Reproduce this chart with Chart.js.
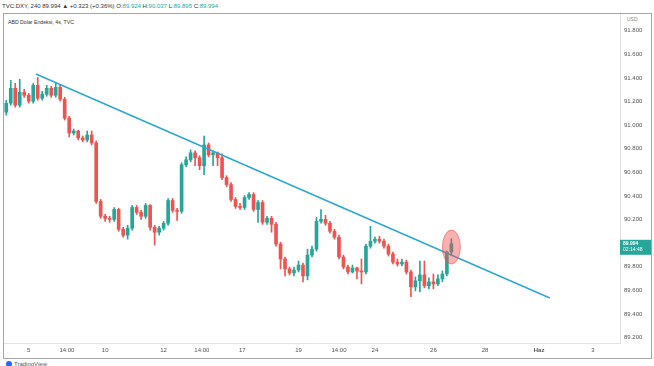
<!DOCTYPE html>
<html>
<head>
<meta charset="utf-8">
<script src="https://cdn.jsdelivr.net/npm/chart.js@4.4.0/dist/chart.umd.min.js"></script>
<style>
  body { margin: 0; background: #fff; font-family: "Liberation Sans", Arial, sans-serif; }
  #wrap { position: relative; width: 654px; height: 366px; overflow: hidden; }
  #frame { position: absolute; left: 3px; top: 13px; width: 647px; height: 344px; border: 1px solid #a5a5a5; }
  #head { position: absolute; left: 2px; top: 3px; font-size: 6px; color: #333; white-space: nowrap; }
  #head .v { color: #26a69a; }
  #title { position: absolute; left: 8px; top: 19px; font-size: 5.2px; color: #333; }
  #usd { position: absolute; left: 627px; top: 16px; font-size: 5px; color: #888; }
  #logo { position: absolute; left: 6px; top: 361px; font-size: 6px; color: #555; white-space: nowrap; }
  #logo span { display: inline-block; width: 6px; height: 6px; border-radius: 3px; background: #2962ff; vertical-align: -1px; margin-right: 2px; }
  canvas { position: absolute; left: 0; top: 0; }
</style>
</head>
<body>
<div id="wrap">
  <div id="frame"></div>
  <div id="head">TVC:DXY, 240 89.994 ▲ +0.323 (+0.36%) O:<span class="v">89.924</span> H:<span class="v">90.037</span> L:<span class="v">89.895</span> C:<span class="v">89.994</span></div>
  <div id="title">ABD Dolar Endeksi, 4s, TVC</div>
  <div id="usd">USD</div>
  <div id="logo"><span></span>TradingView</div>
  <canvas id="chart" width="654" height="366"></canvas>
</div>
<script>
// 4h candles, one slot per candle
let opens = [91.110, 91.186, 91.312, 91.169, 91.278, 91.253, 91.203, 91.337, 91.228, 91.261,
  91.312, 91.253, 91.320, 91.219, 91.059, 90.933, 90.950, 90.891, 90.874, 90.916,
  90.849, 90.353, 90.227, 90.210, 90.201, 90.285, 90.117, 90.067, 90.126, 90.302,
  90.260, 90.227, 90.319, 90.134, 90.092, 90.126, 90.168, 90.361, 90.277, 90.269,
  90.664, 90.706, 90.765, 90.723, 90.656, 90.832, 90.748, 90.765, 90.723, 90.555,
  90.496, 90.370, 90.311, 90.302, 90.386, 90.412, 90.285, 90.344, 90.176, 90.210,
  90.159, 89.991, 89.865, 89.781, 89.747, 89.772, 89.814, 89.722, 89.898, 89.949,
  90.184, 90.201, 90.168, 90.100, 90.050, 89.882, 89.797, 89.755, 89.789, 89.764,
  89.755, 89.974, 90.016, 90.033, 90.016, 89.974, 89.907, 89.839, 89.823, 89.839,
  89.755, 89.629, 89.680, 89.730, 89.638, 89.671, 89.654, 89.696, 89.738, 89.924];
let highs = [91.211, 91.379, 91.354, 91.388, 91.304, 91.270, 91.354, 91.404, 91.287, 91.337,
  91.329, 91.362, 91.346, 91.236, 91.076, 90.967, 90.958, 90.908, 90.950, 90.950,
  90.866, 90.370, 90.243, 90.227, 90.302, 90.294, 90.134, 90.151, 90.319, 90.319,
  90.277, 90.336, 90.327, 90.151, 90.142, 90.184, 90.378, 90.378, 90.294, 90.681,
  90.731, 90.790, 90.782, 90.740, 90.908, 90.849, 90.782, 90.773, 90.757, 90.571,
  90.513, 90.386, 90.336, 90.403, 90.428, 90.428, 90.361, 90.361, 90.227, 90.227,
  90.176, 90.008, 89.882, 89.797, 89.797, 89.848, 89.831, 89.949, 89.974, 90.218,
  90.285, 90.235, 90.184, 90.117, 90.067, 89.898, 89.814, 89.814, 89.797, 89.865,
  89.991, 90.142, 90.050, 90.058, 90.033, 89.991, 89.924, 89.865, 89.865, 89.856,
  89.772, 89.713, 89.848, 89.848, 89.705, 89.738, 89.730, 89.764, 89.932, 90.037];
let lows = [91.085, 91.169, 91.152, 91.152, 91.236, 91.186, 91.186, 91.211, 91.211, 91.245,
  91.236, 91.236, 91.203, 91.043, 90.900, 90.916, 90.874, 90.858, 90.858, 90.832,
  90.336, 90.210, 90.184, 90.176, 90.184, 90.100, 90.050, 90.033, 90.109, 90.243,
  90.201, 90.210, 90.109, 89.983, 90.067, 90.109, 90.151, 90.260, 90.193, 90.252,
  90.647, 90.689, 90.656, 90.622, 90.580, 90.731, 90.656, 90.656, 90.538, 90.479,
  90.353, 90.294, 90.285, 90.285, 90.370, 90.269, 90.176, 90.159, 90.159, 90.092,
  89.974, 89.781, 89.722, 89.730, 89.722, 89.755, 89.671, 89.688, 89.882, 89.932,
  90.168, 90.151, 90.083, 90.033, 89.865, 89.781, 89.738, 89.747, 89.696, 89.654,
  89.738, 89.957, 89.999, 89.999, 89.957, 89.890, 89.823, 89.806, 89.806, 89.738,
  89.545, 89.595, 89.587, 89.621, 89.612, 89.612, 89.638, 89.671, 89.722, 89.895];
let closes = [91.186, 91.312, 91.169, 91.278, 91.253, 91.203, 91.337, 91.228, 91.261, 91.312,
  91.253, 91.320, 91.219, 91.059, 90.933, 90.950, 90.891, 90.874, 90.916, 90.849,
  90.353, 90.227, 90.210, 90.201, 90.285, 90.117, 90.067, 90.126, 90.302, 90.260,
  90.227, 90.319, 90.134, 90.092, 90.126, 90.168, 90.361, 90.277, 90.269, 90.664,
  90.706, 90.765, 90.723, 90.656, 90.832, 90.748, 90.765, 90.723, 90.555, 90.496,
  90.370, 90.311, 90.302, 90.386, 90.412, 90.285, 90.344, 90.176, 90.210, 90.159,
  89.991, 89.865, 89.781, 89.747, 89.772, 89.814, 89.722, 89.898, 89.949, 90.184,
  90.201, 90.168, 90.100, 90.050, 89.882, 89.797, 89.755, 89.789, 89.764, 89.755,
  89.974, 90.016, 90.033, 90.016, 89.974, 89.907, 89.839, 89.823, 89.839, 89.755,
  89.629, 89.680, 89.730, 89.638, 89.671, 89.654, 89.696, 89.738, 89.924, 89.994];

// trend line end points (slot, price)
let trendX = [6.6, 120.9];
let trendY = [91.433, 89.535];

// axis ticks
let tickSlots = [5, 13.5, 22, 35, 43.5, 52.5, 65, 74, 82, 95, 106.5, 118.5, 130.5];
let tickLabels = ["5", "14:00", "10", "12", "14:00", "17", "19", "14:00", "24", "26", "28", "Haz", "3"];
let priceTicks = [89.2, 89.4, 89.6, 89.8, 90.0, 90.2, 90.4, 90.6, 90.8, 91.0, 91.2, 91.4, 91.6, 91.8];

const up = "#26a69a";
const down = "#ef5350";
let candleColors = closes.map((c, i) => c >= opens[i] ? up : down);

let wicks = highs.map((h, i) => ({x: i, y: [lows[i], h]}));
let bodies = opens.map((o, i) => ({x: i, y: [o, closes[i]]}));

// circle round the last candle + price tag on the axis
const marker = {
  id: "marker",
  afterDatasetsDraw(chart) {
    const {ctx, scales: {x, y}} = chart;
    const last = closes.length - 1;
    const cx = x.getPixelForValue(last);
    const cy = y.getPixelForValue((highs[last] + lows[last]) / 2);
    ctx.save();
    ctx.beginPath();
    ctx.ellipse(cx, cy, 9, 17, 0, 0, Math.PI * 2);
    ctx.fillStyle = "rgba(239, 83, 80, 0.45)";
    ctx.fill();
    ctx.strokeStyle = "rgba(225, 90, 90, 0.6)";
    ctx.lineWidth = 1;
    ctx.stroke();
    ctx.restore();
  },
  afterDraw(chart) {
    const {ctx, scales: {y}, chartArea} = chart;
    const last = closes.length - 1;
    const py = y.getPixelForValue(closes[last]);
    ctx.save();
    ctx.fillStyle = up;
    ctx.fillRect(chartArea.right, py - 4, 31, 15);
    ctx.fillStyle = "#fff";
    ctx.font = "bold 5px 'Liberation Sans', Arial";
    ctx.textBaseline = "middle";
    ctx.fillText(closes[last].toFixed(3), chartArea.right + 3, py);
    ctx.font = "5px 'Liberation Sans', Arial";
    ctx.fillText("02:14:48", chartArea.right + 3, py + 6);
    ctx.restore();
  }
};

new Chart(document.getElementById("chart"), {
  type: "bar",
  data: {
    datasets: [
      {
        type: "line",
        data: [{x: trendX[0], y: trendY[0]}, {x: trendX[1], y: trendY[1]}],
        borderColor: "#2aa8d2",
        borderWidth: 1.5,
        pointRadius: 0,
        order: 0
      },
      {
        data: bodies,
        backgroundColor: candleColors,
        barThickness: 3,
        minBarLength: 1,
        grouped: false,
        order: 1
      },
      {
        data: wicks,
        backgroundColor: candleColors,
        barThickness: 1,
        grouped: false,
        order: 2
      }
    ]
  },
  options: {
    responsive: false,
    animation: false,
    layout: {padding: {left: 4, right: 3, top: 14, bottom: 8}},
    plugins: {legend: {display: false}, tooltip: {enabled: false}},
    scales: {
      x: {
        type: "linear",
        offset: false,
        min: -0.5,
        max: 136.5,
        grid: {display: false, drawTicks: false},
        border: {display: true, color: "#e2e2e2"},
        afterBuildTicks: s => { s.ticks = tickSlots.map(v => ({value: v})); },
        afterFit: s => { s.height = 15; },
        ticks: {
          autoSkip: false,
          maxRotation: 0,
          padding: 4,
          color: "#555",
          font: c => ({family: "'Liberation Sans', Arial", size: 6, weight: tickLabels[c.index] === "Haz" ? "bold" : "normal"}),
          callback: (v, i) => tickLabels[i]
        }
      },
      y: {
        position: "right",
        min: 89.153,
        max: 91.942,
        grid: {display: false, drawTicks: false},
        border: {display: true, color: "#e2e2e2"},
        afterBuildTicks: s => { s.ticks = priceTicks.map(v => ({value: v})); },
        afterFit: s => { s.width = 31; },
        ticks: {
          padding: 4,
          color: "#555",
          font: {family: "'Liberation Sans', Arial", size: 6},
          callback: v => v.toFixed(3)
        }
      }
    }
  },
  plugins: [marker]
});
</script>
</body>
</html>
